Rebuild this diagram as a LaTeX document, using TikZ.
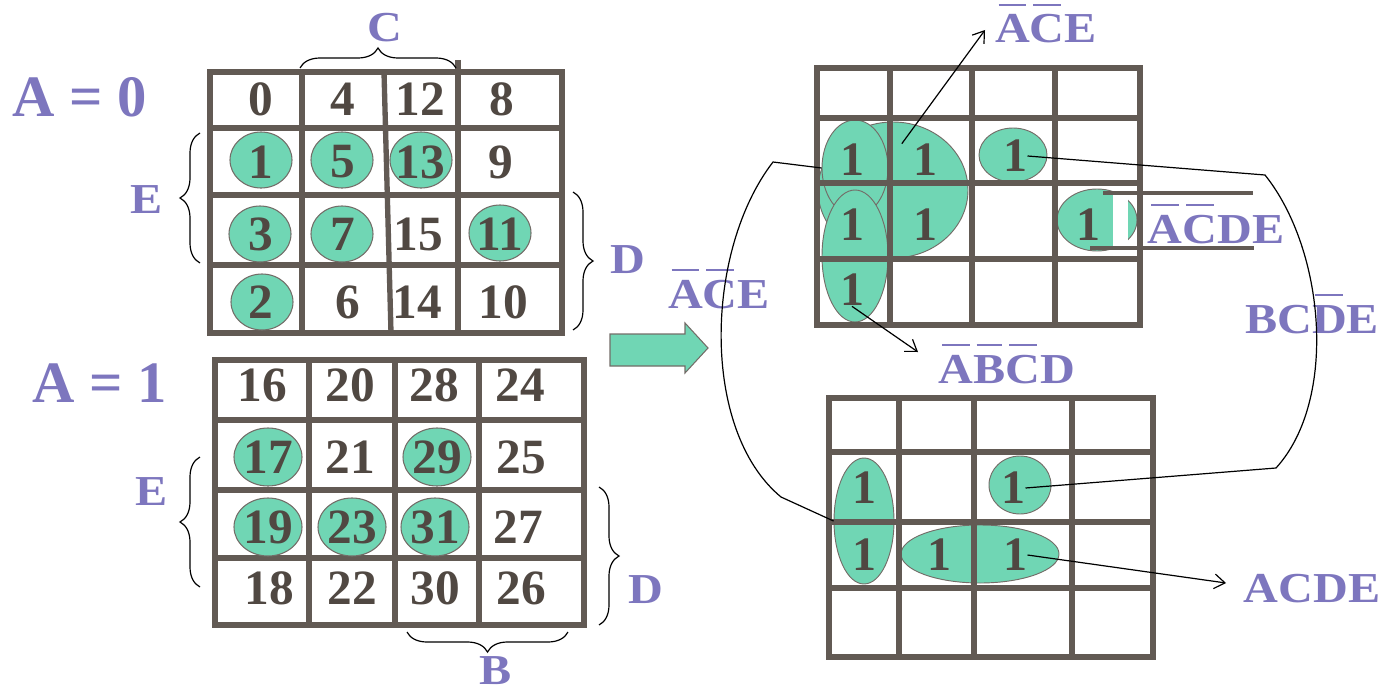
\documentclass[tikz,border=0pt]{standalone}
\usepackage{fontspec}
\setmainfont{Liberation Serif}
\usepackage{graphicx}
\usetikzlibrary{shapes.geometric,decorations.pathreplacing,arrows.meta}

\definecolor{mint}{RGB}{112,214,180}
\definecolor{lilac}{RGB}{125,118,190}
\definecolor{ink}{RGB}{80,72,66}
\definecolor{gridc}{RGB}{98,90,84}

% letter with a bar over it
\newlength\nbarw
\newcommand\nbar[1]{\settowidth\nbarw{#1}\makebox[0pt][l]{\hspace{0.1\nbarw}\rule[0.86em]{0.8\nbarw}{0.05em}}#1}
\newcommand\wide[1]{\scalebox{1.13}[1]{#1}}

\tikzset{every picture/.style={line width=0.75pt}}

\begin{document}
\begin{tikzpicture}[x=0.75pt,y=0.75pt,yscale=-1,xscale=1,
  kmap/.style={draw=gridc, line width=4pt},
  num/.style={text=ink, font=\fontsize{37}{40}\selectfont\bfseries, inner sep=0pt},
  one/.style={text=ink, font=\fontsize{36}{40}\selectfont\bfseries, inner sep=0pt},
  dot/.style={ellipse, fill=mint, draw=ink!80, line width=0.8pt, inner sep=0pt, minimum width=46.5pt, minimum height=42pt},
  bigdot/.style={dot, minimum width=51pt, minimum height=43.5pt},
  loop/.style={ellipse, fill=mint, draw=ink!80, line width=0.7pt, inner sep=0pt},
  lbl/.style={text=lilac, font=\fontsize{32}{36}\selectfont\bfseries, inner sep=0pt, anchor=base},
  biglbl/.style={lbl, font=\fontsize{44}{48}\selectfont\bfseries},
  link/.style={draw=black, line width=0.9pt},
  ptr/.style={link, -{Straight Barb[length=8pt,width=11pt]}},
  brc/.style={decorate, decoration={brace, amplitude=15pt}, draw=black, line width=0.9pt}]
\useasboundingbox (0,0) rectangle (1388,692);

%%%%%%%% left: map for A = 0
\draw[kmap] (210,72) rectangle (562,333);
\draw[kmap] (302,72) -- (302,333);
\draw[kmap] (384,72) -- (391,333);
\draw[kmap] (458,60) -- (458,333);
\foreach \y in {128,195,265} \draw[kmap] (210,\y) -- (562,\y);
\foreach \n/\x/\y in {1/261/160,5/342/160,13/421/160,3/260/234,7/342/234,11/500/233,2/262/302}
  \node[dot] (d\n) at (\x,\y) {};
\foreach \n/\x/\y in {0/261/99,4/343/99,12/420/99,8/502/99,
                      1/261/162,5/343/162,13/420/162,9/501/162,
                      3/261/234,7/343/234,15/418/234,11/500/234,
                      2/261/302,6/348/302,14/417/302,10/503/302}
  \node[num] (c\n) at (\x,\y) {\n};

%%%%%%%% left: map for A = 1
\draw[kmap] (215,360) rectangle (584,625);
\foreach \x in {309,395,479} \draw[kmap] (\x,360) -- (\x,625);
\foreach \y in {420,490,558} \draw[kmap] (215,\y) -- (584,\y);
\foreach \n/\x/\y in {17/268/457,29/437/457,19/268/527,23/352/527,31/435/527}
  \node[bigdot] (d\n) at (\x,\y) {};
\foreach \n/\x/\y in {16/262/385,20/350/385,28/434/385,24/520/385,
                      17/268/457,21/350/457,29/437/457,25/521/457,
                      19/268/527,23/352/527,31/435/527,27/518/527,
                      18/269/588,22/352/588,30/435/588,26/521/588}
  \node[num] (c\n) at (\x,\y) {\n};

% variable labels and braces
\node[biglbl] (lblA0) at (80,117) {A = 0};
\node[biglbl] (lblA1) at (100,402) {A = 1};
\draw[brc] (300,68) -- (456,68);
\node[lbl] (lblC) at (385,42) {\wide{C}};
\draw[brc] (200,263) -- (200,133);
\node[lbl] (lblE0) at (147,213) {\wide{E}};
\draw[brc] (573,192) -- (573,330);
\node[lbl] (lblD0) at (628,273) {\wide{D}};
\draw[brc] (200,587) -- (200,457);
\node[lbl] (lblE1) at (152,505) {\wide{E}};
\draw[brc] (599,487) -- (599,625);
\node[lbl] (lblD1) at (646,603) {\wide{D}};
\draw[brc] (568,632) -- (407,632);
\node[lbl] (lblB) at (496,684) {\wide{B}};

% block arrow
\draw[draw=ink!80, fill=mint, line width=0.8pt] (610,334) -- (685,334) -- (685,323) -- (708,348) -- (685,373) -- (685,366) -- (610,366) -- cycle;

%%%%%%%% right: groups, A = 0
\node[loop, minimum width=112.5pt, minimum height=102pt] (gB) at (893,190) {};
\node[loop, minimum width=49.5pt, minimum height=72pt] (gA) at (855,168) {};
\node[loop, minimum width=49.5pt, minimum height=99pt] (gC) at (855,256) {};
\node[loop, minimum width=51pt, minimum height=40.5pt] (gD) at (1013,155) {};
\node[loop, minimum width=60pt, minimum height=46.5pt] (gW) at (1097,220) {};
\fill[white] (1113,184) rectangle (1128,258);
\draw[kmap] (817,68) rectangle (1140,325);
\foreach \x in {890,972,1055} \draw[kmap] (\x,68) -- (\x,325);
\foreach \y in {118,183,259} \draw[kmap] (817,\y) -- (1140,\y);
\draw[kmap, line width=3.3pt] (1103,193) -- (1253,193);
\draw[kmap, line width=3.3pt] (1090,248) -- (1254,248);
\foreach \n/\x/\y in {1/852/160,5/925/160,13/1015/156,3/852/225,7/925/225,11/1088/225,2/852/290}
  \node[one] (o\n) at (\x,\y) {1};

%%%%%%%% right: groups, A = 1
\node[loop, minimum width=45pt, minimum height=94.5pt] (hA) at (864,521) {};
\node[loop, minimum width=46.5pt, minimum height=43.5pt] (hB) at (1020,485) {};
\node[loop, minimum width=118.5pt, minimum height=43.5pt] (hC) at (980,554) {};
\draw[kmap] (829,398) rectangle (1153,657);
\foreach \x in {899,974,1072} \draw[kmap] (\x,398) -- (\x,657);
\foreach \y in {452,522,588} \draw[kmap] (829,\y) -- (1153,\y);
\foreach \n/\x/\y in {17/864/488,29/1013/488,19/864/555,23/939/555,31/1015/555}
  \node[one] (o\n) at (\x,\y) {1};

% product terms
\node[lbl] (lblACEt) at (1046,43) {\wide{\nbar{A}\nbar{C}E}};
\node[lbl] (lblACEl) at (719,308) {\wide{\nbar{A}\nbar{C}E}};
\node[lbl] (lblABCD) at (1007,383) {\wide{\nbar{A}\nbar{B}\nbar{C}D}};
\node[lbl] (lblACDE) at (1216,243) {\wide{\nbar{A}\nbar{C}DE}};
\node[lbl] (lblBCDE) at (1312,333) {\wide{BC\nbar{D}E}};
\node[lbl] (lblACDEb) at (1312,602) {\wide{ACDE}};

\coordinate (tipACE) at (985,30);
\coordinate (tipABCD) at (918,352);
\coordinate (tipACDE) at (1226,583);
\draw[ptr] ([xshift=-8pt]o5.north west) -- (tipACE);
\draw[ptr] (o2.south) -- (tipABCD);
\draw[ptr] (o31.east) -- (tipACDE);

% links between the two maps
\coordinate (bendL1) at (773,162);
\coordinate (bendL2) at (781,497);
\coordinate (bendR1) at (1265,175);
\coordinate (bendR2) at (1276,468);
\draw[link] (gA.west) -- (bendL1) .. controls (705,250) and (700,430) .. (bendL2) -- (hA.west);
\draw[link] (o13.east) -- (bendR1) .. controls (1325,250) and (1338,400) .. (bendR2) -- (o29.east);

\end{tikzpicture}
\end{document}
